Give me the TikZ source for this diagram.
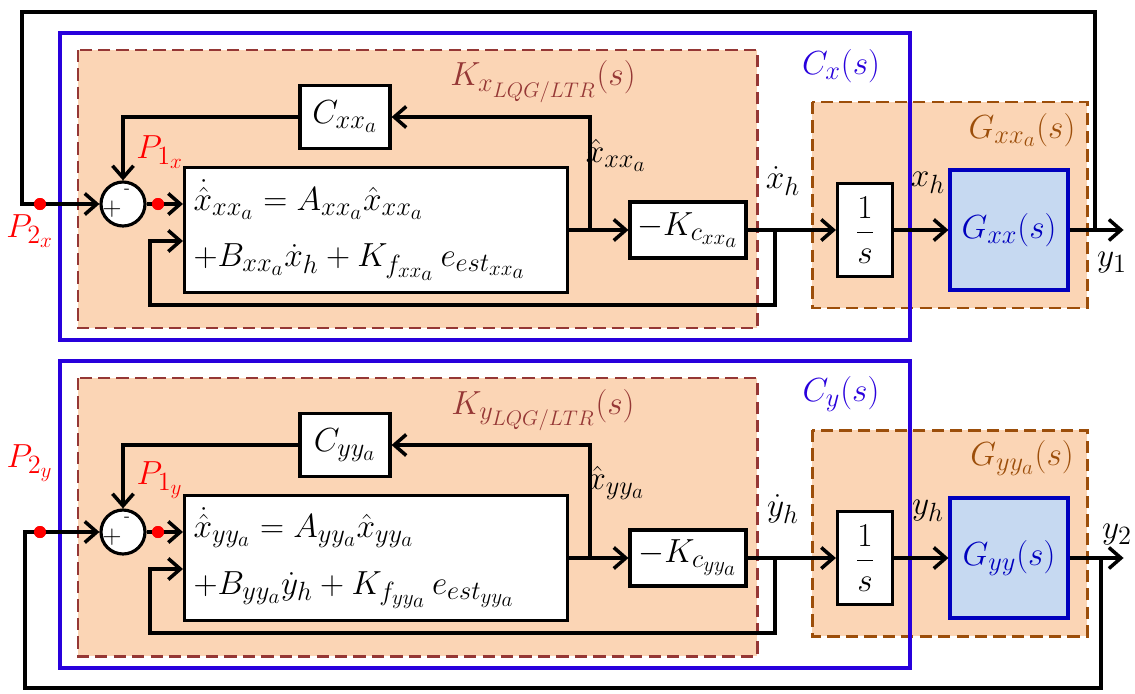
\RequirePackage{fix-cm}
\documentclass[tikz,border=0pt]{standalone}
\usepackage{amsmath}
\usetikzlibrary{arrows.meta,positioning,calc}
\DeclareMathSizes{19}{19}{15}{12}
\definecolor{peach}{RGB}{251,213,181}
\definecolor{wine}{RGB}{149,55,53}
\definecolor{rust}{RGB}{156,78,10}
\definecolor{royal}{RGB}{40,0,220}
\definecolor{deepblue}{RGB}{0,0,190}
\definecolor{skyfill}{RGB}{198,217,241}
\tikzset{
  >={Straight Barb[length=2.4mm,width=4.2mm,line width=2pt]},
  blk/.style={draw,line width=1.8pt,fill=white,align=center,inner sep=2pt},
  plantblk/.style={blk,draw=deepblue,fill=skyfill,text=deepblue},
  sumnode/.style={circle,draw,line width=1.8pt,fill=white,minimum size=8.8mm,inner sep=0pt},
  wire/.style={line width=2pt,line join=miter},
  sig/.style={wire,->},
  region/.style={fill=peach,draw=#1,line width=1.7pt,dash pattern=on 7pt off 3.5pt},
  frame/.style={draw=royal,line width=1.9pt},
  probe/.style={fill=red,circle,inner sep=0pt,minimum size=2.4mm},
  tag/.style={inner sep=1pt},
}
\begin{document}
\begin{tikzpicture}[x=0.02cm,y=-0.02cm,font=\fontsize{19}{23}\selectfont]
  \useasboundingbox (0,0) rectangle (1135,693);
  \foreach \c/\oy/\n in {x/0/1,y/328/2}{
    \begin{scope}[shift={(0,\oy)}]
      % controller and plant areas
      \path[region=wine] (78,50) rectangle (757,328);
      \path[region=rust] (812,102) rectangle (1087,308);
      \draw[frame] (60,33) rectangle (910,340);
      \node[tag,text=wine] (klab\c) at (543,82) {$K_{\c_{LQG/LTR}}(s)$};
      \node[tag,text=royal] (clab\c) at (841,66) {$C_{\c}(s)$};
      \node[tag,text=rust] (glab\c) at (1022,130) {$G_{\c\c_a}(s)$};
      % blocks
      \node[sumnode] (sum\c) at (123,204) {};
      \node[inner sep=0pt,font=\Large] at (112,209) {$+$};
      \node[inner sep=0pt,font=\normalsize] at (127,191) {-};
      \node[blk,minimum width=18mm,minimum height=12.6mm] (obs\c) at (345,117) {$C_{\c\c_a}$};
      \node[blk,align=left,minimum width=76.6mm,minimum height=25mm,text width=73mm]
        (est\c) at (376,230) {$\dot{\hat{x}}_{\c\c_a} = A_{\c\c_a}\hat{x}_{\c\c_a}$\\[9pt]
        $+B_{\c\c_a}\dot{\c}_h + K_{f_{\c\c_a}}\,e_{est_{\c\c_a}}$};
      \node[blk,minimum width=23.2mm,minimum height=11.2mm] (gain\c) at (688,230) {$-K_{c_{\c\c_a}}$};
      \node[blk,minimum width=11mm,minimum height=18.6mm] (integ\c) at (865,230) {$\dfrac{1}{s}$};
      \node[plantblk,minimum width=23.6mm,minimum height=24mm] (plant\c) at (1009,230) {$G_{\c\c}(s)$};
      % connectors
      \coordinate (brk\c) at (590,230);
      \coordinate (tap\c) at (775,230);
      \coordinate (ret\c) at (150,305);
      \draw[sig] (sum\c.east) -- (sum\c.east -| est\c.west);
      \draw[sig] (est\c.east) -- (gain\c.west);
      \draw[sig] (brk\c) |- (obs\c.east);
      \draw[sig] (obs\c.west) -| (sum\c.north);
      \draw[sig] (gain\c.east) -- (integ\c.west);
      \draw[sig] (tap\c) |- (ret\c) |- ($(est\c.west)+(0,11)$);
      \draw[sig] (integ\c.east) -- (plant\c.west);
      \draw[sig] (plant\c.east) -- ++(54,0) coordinate (out\c);
      % probes
      \node[probe] (p1\c) at (158,204) {};
      \node[probe] (p2\c) at (40,204) {};
      \node[tag,text=red] (p1lab\c) at (160,152) {$P_{1_{\c}}$};
      % signal names
      \node[tag] (xhat\c) at (616,155) {$\hat{x}_{\c\c_a}$};
      \node[tag] (dlab\c) at (783,181) {$\dot{\c}_h$};
      \node[tag] (hlab\c) at (928,183) {$\c_h$};
    \end{scope}
  }
  % outer loops
  \node[tag,text=red] (p2labx) at (30,231) {$P_{2_x}$};
  \node[tag,text=red] (p2laby) at (30,463) {$P_{2_y}$};
  \node[tag] (ylab1) at (1112,263) {$y_1$};
  \node[tag] (ylab2) at (1117,535) {$y_2$};
  \coordinate (fbx) at (1095,230);
  \coordinate (fby) at (1101,558);
  \coordinate (cornx) at (22,12);
  \coordinate (corny) at (25,688);
  \draw[sig] (fbx) |- (cornx) |- (sumx.west);
  \draw[sig] (fby) |- (corny) |- (sumy.west);
  \node[probe] at (p2x) {};
  \node[probe] at (p2y) {};
  \node[probe] at (p1x) {};
  \node[probe] at (p1y) {};
\end{tikzpicture}
\end{document}
